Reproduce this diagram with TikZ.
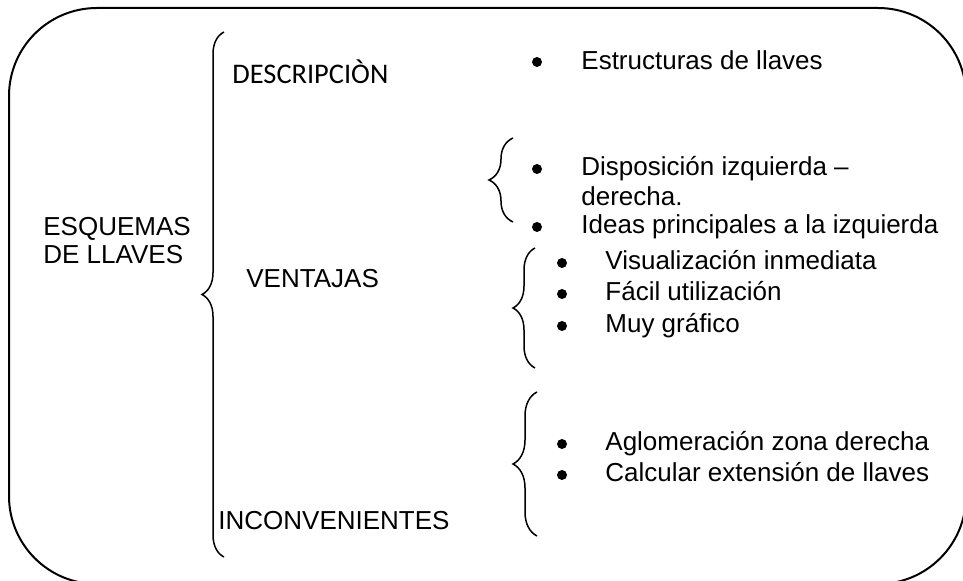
\documentclass[tikz,border=0pt]{standalone}
\usepackage{fontspec}
\setmainfont{Liberation Sans}
\newfontfamily\calib{Carlito}
\usetikzlibrary{decorations.pathreplacing}
\tikzset{
  lbl/.style={anchor=base west,inner sep=0pt,font=\fontsize{13}{15}\selectfont},
  dot/.style={circle,fill,inner sep=0pt,minimum size=5pt},
  llave/.style={draw,line width=0.75pt,decorate,decoration={brace,amplitude=#1}}
}
\begin{document}
\begin{tikzpicture}[x=0.5pt,y=-0.5pt]
\useasboundingbox (0,0) rectangle (963,581);
\path[draw,line width=1pt,rounded corners=44pt] (9,8) rectangle (966,584);

\node[lbl] (esq1) at (43,236) {ESQUEMAS};
\node[lbl] (esq2) at (43,264) {DE LLAVES};
\node[lbl,font=\calib\fontsize{14.2}{17}\selectfont] (desc) at (232,84) {DESCRIPCIÒN};
\node[lbl] (vent) at (246,288) {VENTAJAS};
\node[lbl] (inc) at (218,530) {INCONVENIENTES};

\coordinate (g1a) at (224,557); \coordinate (g1b) at (224,32);
\coordinate (g2a) at (513,222); \coordinate (g2b) at (513,138);
\coordinate (g3a) at (535,368); \coordinate (g3b) at (535,248);
\coordinate (g4a) at (537,536); \coordinate (g4b) at (537,392);
\path[llave=11pt] (g1a) -- (g1b);
\path[llave=12pt] (g2a) -- (g2b);
\path[llave=11pt] (g3a) -- (g3b);
\path[llave=12pt] (g4a) -- (g4b);

\node[dot] (p1) at (537,62) {};
\node[lbl] (t1) at (581,70) {Estructuras de llaves};
\node[dot] (p2) at (537,169) {};
\node[lbl] (t2) at (581,176) {Disposición izquierda –};
\node[lbl] (t2b) at (581,206) {derecha.};
\node[dot] (p3) at (537,227) {};
\node[lbl] (t3) at (581,234) {Ideas principales a la izquierda};

\node[dot] (p4) at (562,263) {};
\node[lbl] (t4) at (605,270) {Visualización inmediata};
\node[dot] (p5) at (562,294) {};
\node[lbl] (t5) at (605,301) {Fácil utilización};
\node[dot] (p6) at (562,326) {};
\node[lbl] (t6) at (605,333) {Muy gráfico};

\node[dot] (p7) at (562,444) {};
\node[lbl] (t7) at (605,451) {Aglomeración zona derecha};
\node[dot] (p8) at (562,475) {};
\node[lbl] (t8) at (605,482) {Calcular extensión de llaves};
\end{tikzpicture}
\end{document}
